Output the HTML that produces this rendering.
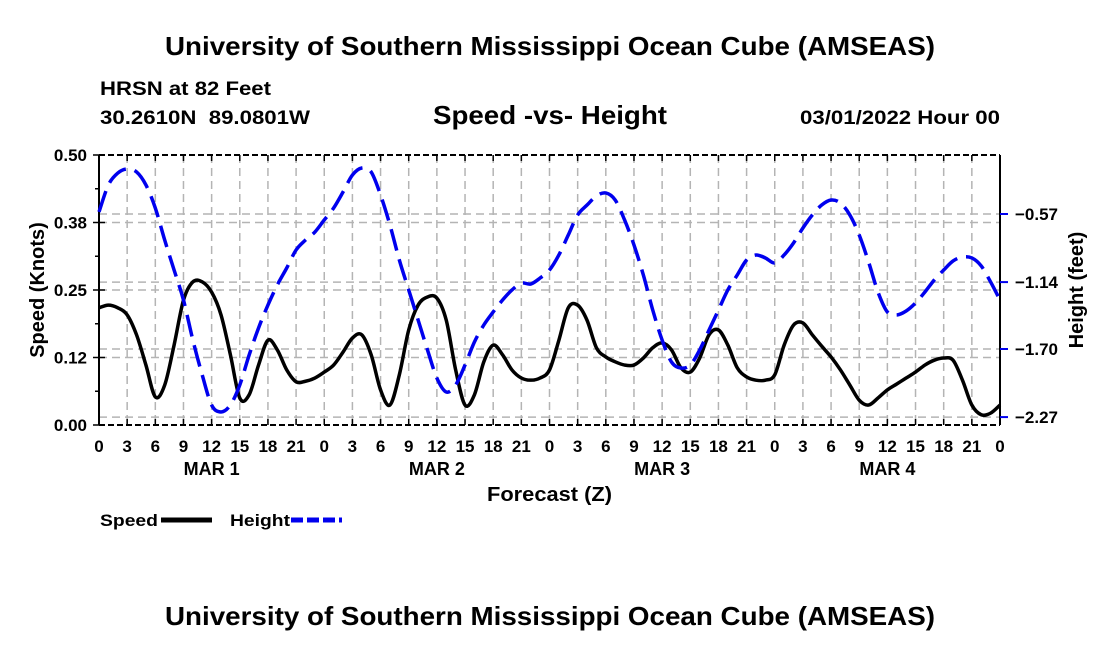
<!DOCTYPE html>
<html><head><meta charset="utf-8"><style>
body{margin:0;background:#fff;width:1100px;height:650px;overflow:hidden;font-family:"Liberation Sans",sans-serif;}
svg text{font-family:"Liberation Sans",sans-serif;font-weight:bold;}
</style></head><body>
<svg id="c" width="1100" height="650">
<text x="165" y="55" font-size="26" textLength="770" lengthAdjust="spacingAndGlyphs">University of Southern Mississippi Ocean Cube (AMSEAS)</text>
<text x="100" y="95" font-size="19" textLength="171" lengthAdjust="spacingAndGlyphs">HRSN at 82 Feet</text>
<text x="100" y="124" font-size="19" textLength="210" lengthAdjust="spacingAndGlyphs" xml:space="preserve">30.2610N  89.0801W</text>
<text x="433" y="124" font-size="26" textLength="234" lengthAdjust="spacingAndGlyphs">Speed -vs- Height</text>
<text x="800" y="124" font-size="19" textLength="200" lengthAdjust="spacingAndGlyphs">03/01/2022 Hour 00</text>
<text x="165" y="625" font-size="26" textLength="770" lengthAdjust="spacingAndGlyphs">University of Southern Mississippi Ocean Cube (AMSEAS)</text>
<g id="grid"></g><g id="axes"></g><g id="series"></g>
<text x="487" y="501" font-size="20" textLength="125" lengthAdjust="spacingAndGlyphs">Forecast (Z)</text>
<text transform="translate(44,290) rotate(-90)" font-size="20" text-anchor="middle">Speed (Knots)</text>
<text transform="translate(1083,290) rotate(-90)" font-size="20" text-anchor="middle">Height (feet)</text>
<g>
<text x="100" y="526" font-size="17" textLength="58" lengthAdjust="spacingAndGlyphs">Speed</text>
<line x1="161" y1="520" x2="212" y2="520" stroke="#000" stroke-width="5"/>
<text x="230" y="526" font-size="17" textLength="60" lengthAdjust="spacingAndGlyphs">Height</text>
<line x1="291" y1="520" x2="342" y2="520" stroke="#0000ee" stroke-width="5" stroke-dasharray="12,4"/>
</g>
</svg>
<script>
const hours=[];for(let i=0;i<=96;i++)hours.push(i);
const speed=[.217,.222,.217,.204,.167,.111,.052,.074,.148,.231,.265,.265,.246,.204,.130,.050,.056,.111,.157,.139,.102,.080,.081,.087,.098,.111,.135,.161,.167,.130,.065,.037,.093,.176,.222,.237,.235,.194,.102,.037,.056,.117,.148,.130,.102,.087,.083,.087,.102,.157,.217,.222,.194,.143,.126,.117,.111,.111,.124,.143,.152,.139,.106,.098,.124,.167,.176,.148,.106,.089,.083,.083,.093,.148,.185,.189,.167,.146,.126,.102,.074,.046,.037,.050,.065,.076,.087,.098,.111,.120,.124,.120,.083,.037,.019,.022,.037];
const height=[-0.553,-0.327,-0.227,-0.193,-0.218,-0.327,-0.520,-0.788,-1.039,-1.290,-1.625,-1.918,-2.169,-2.227,-2.169,-2.001,-1.750,-1.524,-1.332,-1.164,-1.022,-0.871,-0.788,-0.721,-0.620,-0.520,-0.386,-0.244,-0.185,-0.218,-0.411,-0.662,-0.955,-1.206,-1.457,-1.708,-1.943,-2.060,-2.001,-1.834,-1.641,-1.499,-1.390,-1.290,-1.206,-1.148,-1.156,-1.106,-1.039,-0.913,-0.746,-0.578,-0.495,-0.419,-0.394,-0.453,-0.620,-0.829,-1.081,-1.374,-1.625,-1.809,-1.859,-1.834,-1.708,-1.541,-1.374,-1.206,-1.081,-0.955,-0.913,-0.938,-0.980,-0.913,-0.813,-0.687,-0.578,-0.495,-0.453,-0.478,-0.578,-0.746,-0.972,-1.223,-1.390,-1.415,-1.382,-1.315,-1.223,-1.122,-1.039,-0.963,-0.930,-0.938,-1.005,-1.139,-1.290];
const leftTicks=[0,0.125,0.25,0.375,0.5];
const leftTickLabels=["0.00","0.12","0.25","0.38","0.50"];
const rightTicks=[-0.57,-1.14,-1.70,-2.27];
const rightTickLabels=["\u22120.57","\u22121.14","\u22121.70","\u22122.27"];
const xTickLabels=["0","3","6","9","12","15","18","21"];
const dayLabels=["MAR 1","MAR 2","MAR 3","MAR 4"];

const X0=99,X1=1000,Y0=425,Y1=155;
const xs=h=>X0+(X1-X0)*h/96;
const ys=v=>Y0-(Y0-Y1)*v/0.5;
const yh=v=>214+(-0.57-v)*67.7/0.5667;
const NS="http://www.w3.org/2000/svg";
function mk(parent,tag,attrs,txt){const e=document.createElementNS(NS,tag);for(const k in attrs)e.setAttribute(k,attrs[k]);if(txt!=null)e.textContent=txt;document.getElementById(parent).appendChild(e);return e;}
for(let h=3;h<96;h+=3){const l=mk('grid','line',{x1:xs(h),x2:xs(h),y1:Y1,y2:Y0,stroke:'#b4b4b4','stroke-width':1.5,'stroke-dasharray':'8,5'});

}
leftTicks.slice(1,4).forEach(v=>{const l=mk('grid','line',{x1:X0,x2:X1,y1:ys(v),y2:ys(v),stroke:'#b4b4b4','stroke-width':1.5,'stroke-dasharray':'8,5'});

});
rightTicks.forEach(v=>{const l=mk('grid','line',{x1:X0,x2:X1,y1:yh(v),y2:yh(v),stroke:'#b4b4b4','stroke-width':1.5,'stroke-dasharray':'8,5'});

});
const lf=mk('axes','line',{x1:X0,x2:X0,y1:Y1,y2:Y0,stroke:'#000','stroke-width':2});


const rt=mk('axes','line',{x1:X1,x2:X1,y1:Y1,y2:Y0,stroke:'#000','stroke-width':2});


[Y1,Y0].forEach(y=>{const l=mk('axes','line',{x1:X0,x2:X1,y1:y,y2:y,stroke:'#000','stroke-width':2,'stroke-dasharray':'6,3'});

});
for(let h=0;h<=96;h+=3){const t=mk('axes','line',{x1:xs(h),x2:xs(h),y1:Y0,y2:Y0-6,stroke:'#000','stroke-width':1.5});


const t2=mk('axes','line',{x1:xs(h),x2:xs(h),y1:Y1,y2:Y1+6,stroke:'#000','stroke-width':1.5});


const lab=mk('axes','text',{x:xs(h),y:452,'font-size':17,'text-anchor':'middle'},xTickLabels[(h/3)%8]);

}
dayLabels.forEach((d,i)=>{const t=mk('axes','text',{x:xs(12+24*i),y:475,'font-size':18,'text-anchor':'middle'},d);

});
leftTicks.forEach((v,i)=>{const t=mk('axes','line',{x1:X0-6,x2:X0+6,y1:ys(v),y2:ys(v),stroke:'#000','stroke-width':1.5});


const l=mk('axes','text',{x:X0-12,y:ys(v)+6,'font-size':17,'text-anchor':'end'},leftTickLabels[i]);

});
for(let k=1;k<8;k+=2){const m=mk('axes','line',{x1:X0-4,x2:X0,y1:ys(k*0.0625),y2:ys(k*0.0625),stroke:'#000','stroke-width':1.5});

}
rightTicks.forEach((v,i)=>{const t=mk('axes','line',{x1:X1,x2:X1+8,y1:yh(v),y2:yh(v),stroke:'#0000ee','stroke-width':2});


const l=mk('axes','text',{x:X1+15,y:yh(v)+6,'font-size':17},rightTickLabels[i]);

});
function smooth(pts){let d=`M${pts[0][0]},${pts[0][1]}`;for(let i=0;i<pts.length-1;i++){const p0=pts[Math.max(0,i-1)],p1=pts[i],p2=pts[i+1],p3=pts[Math.min(pts.length-1,i+2)];
d+=`C${p1[0]+(p2[0]-p0[0])/6},${p1[1]+(p2[1]-p0[1])/6} ${p2[0]-(p3[0]-p1[0])/6},${p2[1]-(p3[1]-p1[1])/6} ${p2[0]},${p2[1]}`;}return d;}
const sp=mk('series','path',{d:smooth(hours.map((h,i)=>[xs(h),ys(speed[i])])),fill:'none',stroke:'#000','stroke-width':3.5});


const hp=mk('series','path',{d:smooth(hours.map((h,i)=>[xs(h),yh(height[i])])),fill:'none',stroke:'#0000ee','stroke-width':3.5,'stroke-dasharray':'22,9'});


</script>
</body></html>
